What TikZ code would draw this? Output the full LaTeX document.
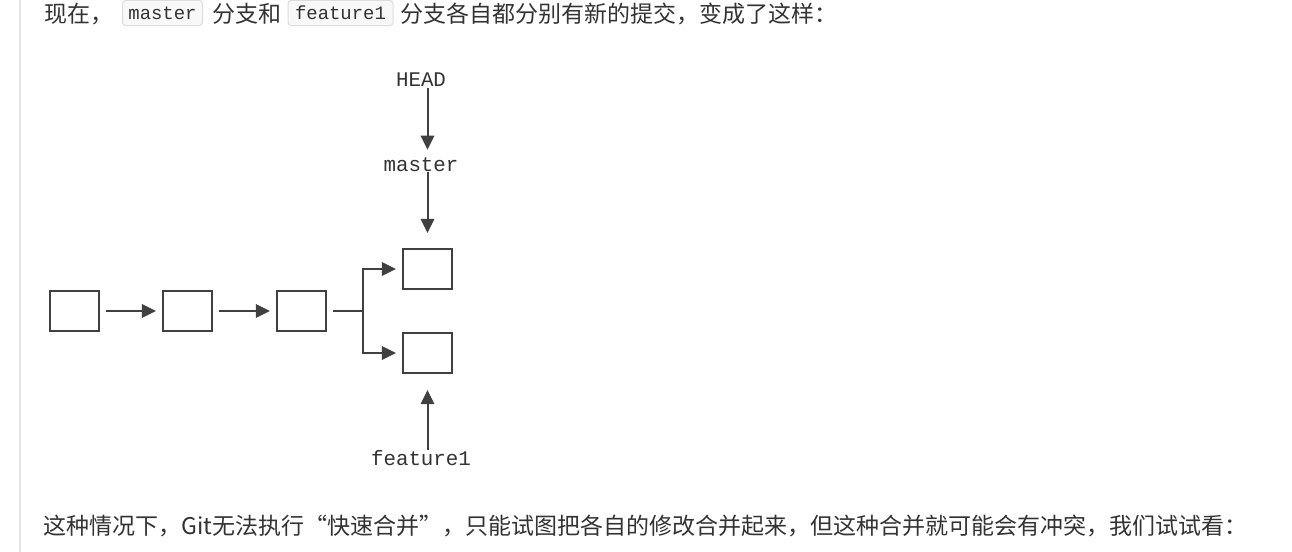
\documentclass[tikz,border=0pt]{standalone}
\usepackage{fontspec}
\setmainfont{Noto Sans CJK SC}
\setmonofont{Liberation Mono}
\usetikzlibrary{arrows.meta,positioning}

\definecolor{ink}{HTML}{404040}
\definecolor{txt}{HTML}{333333}
\definecolor{codebg}{HTML}{F8F8F8}
\definecolor{codeline}{HTML}{DDDDDD}
\definecolor{rulegray}{HTML}{E3E3E3}

\tikzset{
  commit/.style={draw=ink, line width=1.6pt, minimum width=36.75pt,
                 minimum height=30pt, inner sep=0},
  link/.style={draw=ink, line width=1.5pt, -{Triangle[length=10.5pt,width=10pt]}},
  para/.style={text=txt, inner sep=0, anchor=west,
               font=\fontsize{17.25pt}{20pt}\selectfont},
  codebox/.style={fill=codebg, draw=codeline, line width=0.75pt,
                  rounded corners=2.5pt, text=txt, minimum height=19pt,
                  inner sep=0, font=\ttfamily\fontsize{14.2pt}{16pt}\selectfont},
  ref/.style={text=txt, inner sep=0,
              font=\ttfamily\fontsize{15.6pt}{18pt}\selectfont}
}

\begin{document}
\begin{tikzpicture}[x=0.75pt, y=-0.75pt]
\useasboundingbox (0,0) rectangle (1292,552);
\draw[rulegray, line width=1.5pt] (20,0) -- (20,552);

% text above
\node[para] (t1) at (44,14) {现在，};
\node[codebox, minimum width=60pt] (cm) at (162.5,13) {master};
\node[para] (t2) at (212,14) {分支和};
\node[codebox, minimum width=78.75pt] (cf) at (340.5,13) {feature1};
\node[para] (t3) at (400,14) {分支各自都分别有新的提交，变成了这样：};

% commits
\node[commit] (c1) at (74.5,311)  {};
\node[commit] (c2) at (187.5,311) {};
\node[commit] (c3) at (301.5,311) {};
\node[commit] (c4) at (427.5,269) {}; % master
\node[commit] (c5) at (427.5,353) {}; % feature1
\coordinate (fork) at (363,311);

\draw[link, shorten <=4.5pt, shorten >=4.5pt] (c1) -- (c2);
\draw[link, shorten <=4.5pt, shorten >=4.5pt] (c2) -- (c3);
\draw[ink, line width=1.5pt, shorten <=4.5pt] (c3) -- (fork);
\draw[link, shorten >=4.5pt] (fork) |- (c4.west);
\draw[link, shorten >=4.5pt] (fork) |- (c5.west);

% pointers
\node[ref] (head) at (421,80)  {HEAD};
\node[ref] (mst)  at (421,165) {master};
\node[ref] (feat) at (421,458) {feature1};

\draw[link, shorten <=0.5pt, shorten >=6pt] (head.south -| c4) -- (mst.north -| c4);
\draw[link, shorten >=11.25pt] (mst.base -| c4) -- (c4.north);
\draw[link, shorten >=12pt] (feat.north -| c5) -- (c5.south);

% text below
\node[para] (t4) at (43,526) {这种情况下，Git无法执行“快速合并”，只能试图把各自的修改合并起来，但这种合并就可能会有冲突，我们试试看：};
\end{tikzpicture}
\end{document}
